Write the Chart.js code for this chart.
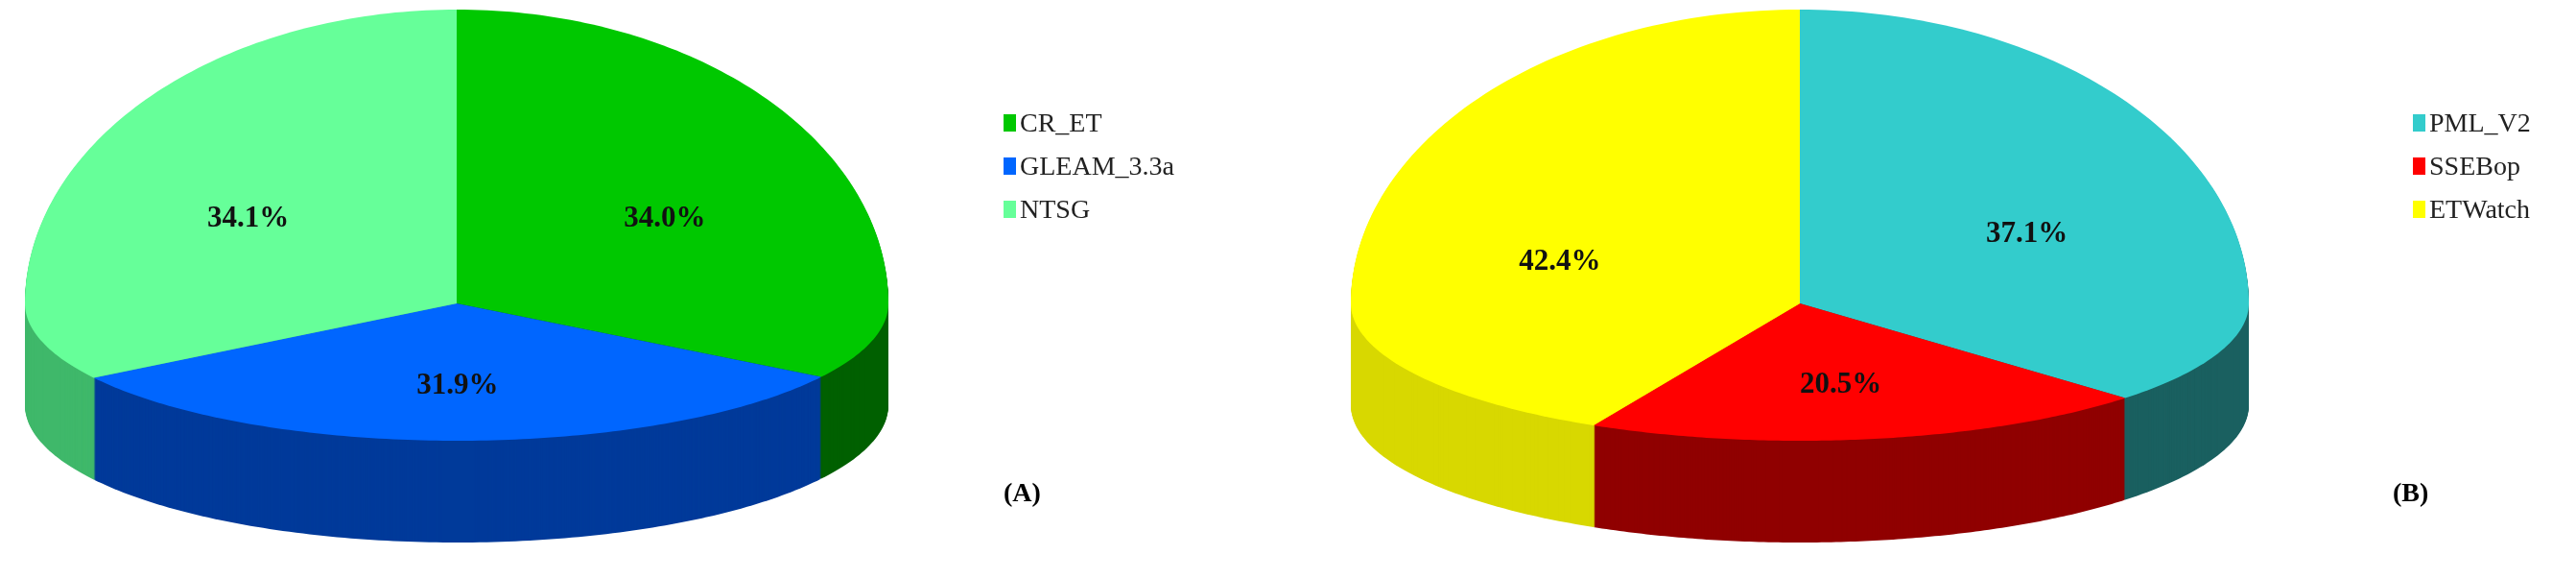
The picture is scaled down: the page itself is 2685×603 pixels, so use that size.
<!DOCTYPE html>
<html>
<head>
<meta charset="utf-8">
<script src="https://cdn.jsdelivr.net/npm/chart.js@4"></script>
<style>
  body { margin: 0; background: #fff; width: 2685px; height: 603px; overflow: hidden; font-family: "Liberation Serif", serif; }
  .box { position: absolute; top: 0; width: 1342px; height: 603px; }
  canvas { position: absolute; left: 0; top: 0; }
  .legend { position: absolute; font-size: 28px; color: #222; }
  .legend div { height: 45px; display: flex; align-items: center; }
  .legend span { display: inline-block; width: 13px; height: 18px; margin-right: 4px; }
  .tag { position: absolute; font-size: 28px; font-weight: bold; }
</style>
</head>
<body>
<div class="box" style="left:0">
  <canvas id="pieA" width="1342" height="603"></canvas>
  <div class="legend" id="legA" style="left:1046px; top:105px"></div>
  <div class="tag" style="left:1046px; top:497px">(A)</div>
</div>
<div class="box" style="left:1342px">
  <canvas id="pieB" width="1342" height="603"></canvas>
  <div class="legend" id="legB" style="left:1173px; top:105px"></div>
  <div class="tag" style="left:1152px; top:497px">(B)</div>
</div>
<script>
const labelsA = ['CR_ET', 'GLEAM_3.3a', 'NTSG'];
const valuesA = [34.0, 31.9, 34.1];
const colorsA = ['#00C800', '#0066FF', '#66FF99'];
const sidesA = ['#006000', '#003A9A', '#3FB86A'];

const labelsB = ['PML_V2', 'SSEBop', 'ETWatch'];
const valuesB = [37.1, 20.5, 42.4];
const colorsB = ['#33CCCC', '#FF0000', '#FFFF00'];
const sidesB = ['#1A6060', '#900000', '#D8D800'];

// tilted pie: back half and front half get different vertical radii
function pie3d(geo, sides) {
  const pt = (t, d) => [
    geo.cx + geo.rx * Math.cos(t),
    geo.cy + Math.sin(t) * (Math.sin(t) < 0 ? geo.ryTop : geo.ryBot) + d
  ];
  function sector(ctx, arc, d) {
    ctx.beginPath();
    ctx.moveTo(geo.cx, geo.cy + d);
    const n = 120;
    for (let k = 0; k <= n; k++) {
      const t = arc.startAngle + (arc.endAngle - arc.startAngle) * k / n;
      const p = pt(t, d);
      ctx.lineTo(p[0], p[1]);
    }
    ctx.closePath();
  }
  return {
    id: 'pie3d',
    beforeDatasetsDraw(chart) {
      const ctx = chart.ctx;
      const arcs = chart.getDatasetMeta(0).data;
      const bg = chart.data.datasets[0].backgroundColor;
      for (let d = geo.depth; d > 0; d -= 1) {
        arcs.forEach((arc, i) => { sector(ctx, arc, d); ctx.fillStyle = sides[i]; ctx.fill(); });
      }
      arcs.forEach((arc, i) => { sector(ctx, arc, 0); ctx.fillStyle = bg[i]; ctx.fill(); });
      ctx.save();
      ctx.font = 'bold 31px "Liberation Serif"';
      ctx.fillStyle = '#111';
      ctx.textAlign = 'center';
      ctx.textBaseline = 'middle';
      const vals = chart.data.datasets[0].data;
      arcs.forEach((arc, i) => {
        const mid = (arc.startAngle + arc.endAngle) / 2;
        const p = pt(mid, 0);
        const tx = geo.cx + (p[0] - geo.cx) * 0.55;
        const ty = geo.cy + (p[1] - geo.cy) * 0.6;
        ctx.fillText(vals[i].toFixed(1) + '%', tx, ty);
      });
      ctx.restore();
      return false;
    }
  };
}

function makePie(id, labels, values, colors, sides, geo) {
  new Chart(document.getElementById(id), {
    type: 'pie',
    data: { labels: labels, datasets: [{ data: values, backgroundColor: colors, borderWidth: 0 }] },
    options: {
      responsive: false,
      animation: false,
      plugins: { legend: { display: false }, tooltip: { enabled: false } }
    },
    plugins: [pie3d(geo, sides)]
  });
}

function makeLegend(id, labels, colors) {
  const el = document.getElementById(id);
  labels.forEach((l, i) => {
    el.innerHTML += '<div><span style="background:' + colors[i] + '"></span>' + l + '</div>';
  });
}

makePie('pieA', labelsA, valuesA, colorsA, sidesA, { cx: 476, cy: 316, rx: 450, ryTop: 306, ryBot: 143, depth: 106 });
makePie('pieB', labelsB, valuesB, colorsB, sidesB, { cx: 534, cy: 316, rx: 468, ryTop: 306, ryBot: 143, depth: 106 });
makeLegend('legA', labelsA, colorsA);
makeLegend('legB', labelsB, colorsB);
</script>
</body>
</html>
